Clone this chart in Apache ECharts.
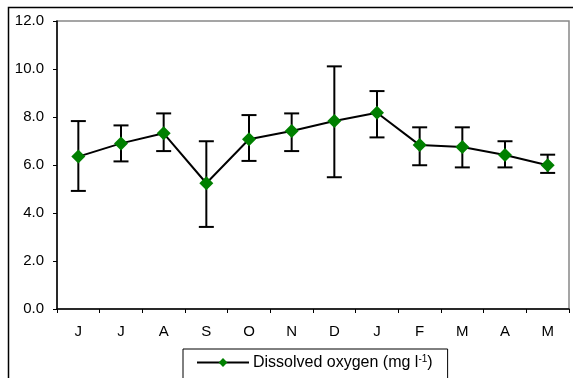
<!DOCTYPE html>
<html>
<head>
<meta charset="utf-8">
<script src="https://cdn.jsdelivr.net/npm/echarts@6/dist/echarts.min.js"></script>
<style>
html,body{margin:0;padding:0;background:#fff;}
#c{width:573px;height:378px;}
</style>
</head>
<body>
<div id="c"></div>
<script>
var categories = ['J','J','A','S','O','N','D','J','F','M','A','M'];
var oxygenMean = [6.35, 6.9, 7.32, 5.24, 7.07, 7.42, 7.83, 8.18, 6.83, 6.75, 6.42, 5.99];
var errLow   = [4.92, 6.15, 6.58, 3.42, 6.17, 6.58, 5.49, 7.15, 5.99, 5.9, 5.9, 5.67];
var errHigh  = [7.83, 7.65, 8.15, 6.99, 8.08, 8.15, 10.11, 9.08, 7.57, 7.57, 6.99, 6.43];
var yTicks = [0, 2, 4, 6, 8, 10, 12];
var seriesName = 'Dissolved oxygen (mg l-1)';

var errData = categories.map(function(c, i){ return [i, errLow[i], errHigh[i]]; });
var font = '"Liberation Sans", Arial, sans-serif';

var chart = echarts.init(document.getElementById('c'), null, {renderer:'canvas'});
chart.setOption({
  animation: false,
  backgroundColor: '#fff',
  textStyle: {fontFamily: font},
  graphic: [{
    type: 'rect', silent: true, z: -1,
    shape: {x: 8.5, y: 7.5, width: 700, height: 500},
    style: {fill: 'none', stroke: '#000', lineWidth: 1.5}
  }],
  grid: {left: 57, top: 21, right: 4, bottom: 69, show: true, borderColor: '#888', borderWidth: 1.5, backgroundColor: 'transparent'},
  legend: {
    show: true,
    data: [seriesName],
    left: 183, top: 349,
    padding: [5, 15, 30, 13],
    itemGap: 3,
    borderColor: '#000', borderWidth: 1,
    itemWidth: 52, itemHeight: 11,
    textStyle: {
      fontFamily: font, fontSize: 16, color: '#000', padding: [1, 0, 0, -1],
      rich: {
        sup: {fontSize: 10, fontFamily: font, color: '#000', padding: [0, 0, 8, 0]}
      }
    },
    formatter: function(){ return 'Dissolved oxygen (mg l{sup|-1})'; }
  },
  xAxis: {
    type: 'category',
    data: categories,
    boundaryGap: true,
    axisLine: {lineStyle: {color: '#000', width: 1.5}},
    axisTick: {show: true, length: 4, lineStyle: {color: '#000'}},
    axisLabel: {color: '#000', fontSize: 15, margin: 15, fontFamily: font, interval: 0},
    splitLine: {show: false}
  },
  yAxis: {
    type: 'value',
    min: yTicks[0], max: yTicks[yTicks.length-1], interval: 2,
    axisLine: {show: true, lineStyle: {color: '#000', width: 1.5}},
    axisTick: {show: true, length: 4, lineStyle: {color: '#000'}},
    axisLabel: {color: '#000', fontSize: 15, margin: 13, fontFamily: font,
      formatter: function(v){ return v.toFixed(1); }},
    splitLine: {show: false}
  },
  series: [
    {
      type: 'custom',
      name: 'err',
      z: 1,
      data: errData,
      encode: {x: 0, y: [1, 2]},
      renderItem: function(params, api){
        var x = api.value(0);
        var lo = api.coord([x, api.value(1)]);
        var hi = api.coord([x, api.value(2)]);
        var hw = 7.5;
        var st = {stroke: '#000', lineWidth: 2, fill: null};
        return {
          type: 'group',
          children: [
            {type: 'line', shape: {x1: hi[0], y1: hi[1], x2: lo[0], y2: lo[1]}, style: st},
            {type: 'line', shape: {x1: hi[0]-hw, y1: hi[1], x2: hi[0]+hw, y2: hi[1]}, style: st},
            {type: 'line', shape: {x1: lo[0]-hw, y1: lo[1], x2: lo[0]+hw, y2: lo[1]}, style: st}
          ]
        };
      }
    },
    {
      type: 'line',
      name: seriesName,
      z: 3,
      data: oxygenMean,
      symbol: 'diamond',
      symbolSize: 14,
      showAllSymbol: true,
      itemStyle: {color: '#008000', borderWidth: 0},
      lineStyle: {color: '#000', width: 2}
    }
  ]
});
</script>
</body>
</html>
